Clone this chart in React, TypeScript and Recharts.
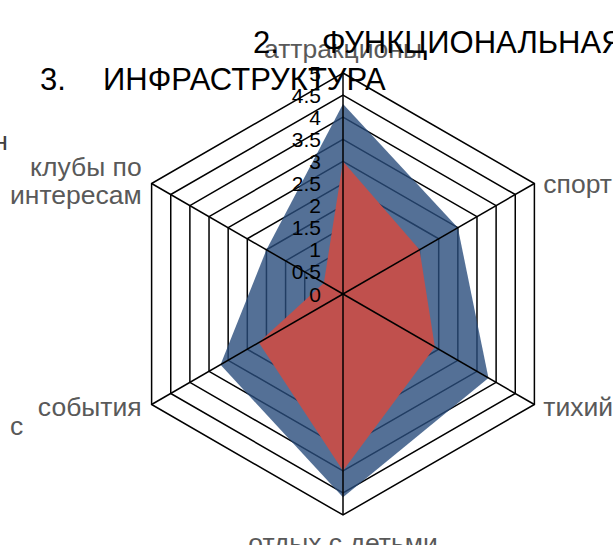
import React from 'react';
import { RadarChart, Radar, PolarGrid, PolarAngleAxis, PolarRadiusAxis } from 'recharts';

const categories = ['аттракционы', 'спорт', 'тихий', 'отдых с детьми', 'события', 'клубы по интересам'];
const seriesBlue = [4.3, 3.0, 3.8, 4.6, 3.2, 2.0];
const seriesRed = [3.0, 2.0, 2.4, 4.0, 2.2, 0.5];
const radiusDomain = [0, 5];
const radiusTickCount = 11;
const labelLines: Record<string, string[]> = {
  'клубы по интересам': ['клубы по', 'интересам'],
};
const titleLine1 = ['2.', 'ФУНКЦИОНАЛЬНАЯ'];
const titleLine2 = ['3.', 'ИНФРАСТРУКТУРА'];

const data = categories.map((c, i) => ({ name: c, blue: seriesBlue[i], red: seriesRed[i] }));

const W = 613;
const H = 545;
const CX = 343;
const CY = 294;
const R = 221;
const FONT = '"Liberation Sans", Arial, sans-serif';

const AngleTick = (props: any) => {
  const { x, y, payload, textAnchor } = props;
  const lines = labelLines[payload.value] || [payload.value];
  let baseline: number;
  if (y < CY - 150) baseline = y - 7;
  else if (y > CY + 150) baseline = y + 29;
  else if (y < CY) baseline = y + 13.5 - (lines.length - 1) * 17;
  else baseline = y + 7;
  let tx = x;
  if (textAnchor === 'start') tx = x + 2;
  else if (textAnchor === 'end') tx = x - 3;
  return (
    <text x={tx} y={baseline} textAnchor={textAnchor} fontSize={26.5} fill="#595959" fontFamily={FONT}>
      {lines.map((l, i) => (
        <tspan key={i} x={tx} dy={i === 0 ? 0 : 28}>{l}</tspan>
      ))}
    </text>
  );
};

const RadiusTick = (props: any) => {
  const { x, y, payload } = props;
  return (
    <text x={x - 22} y={y} dy="0.36em" textAnchor="end" fontSize={21} fill="#000" fontFamily={FONT}>
      {payload.value}
    </text>
  );
};

export default function App() {
  return (
    <div style={{ position: 'absolute', left: 0, top: 0, width: W, height: H, overflow: 'hidden', background: '#fff' }}>
      <RadarChart width={W} height={H} data={data} cx={CX} cy={CY} outerRadius={R} margin={{ top: 0, right: 0, bottom: 0, left: 0 }}>
        <PolarGrid gridType="polygon" radialLines={false} stroke="#000" strokeWidth={1.5} />
        <PolarAngleAxis dataKey="name" tick={<AngleTick />} tickLine={false} axisLine={false} />
        <PolarRadiusAxis angle={90} domain={radiusDomain} tickCount={radiusTickCount} allowDecimals={true} orientation="left" axisLine={false} tickLine={false} tick={<RadiusTick />} />
        <Radar dataKey="blue" fill="#294c7c" fillOpacity={0.8} stroke="none" isAnimationActive={false} />
        <Radar dataKey="red" fill="#c0504d" fillOpacity={1} stroke="none" isAnimationActive={false} />
        <PolarGrid gridType="polygon" polarRadius={[]} radialLines stroke="#000" strokeWidth={1.5} zIndex={600} />
      </RadarChart>
      <svg width={W} height={H} style={{ position: 'absolute', left: 0, top: 0, pointerEvents: 'none' }}>
        <text x={253} y={53} fontSize={31} fill="#000" fontFamily={FONT}>{titleLine1[0]}</text>
        <text x={322} y={53} fontSize={31} fill="#000" fontFamily={FONT}>{titleLine1[1]}</text>
        <text x={40} y={90} fontSize={31} fill="#000" fontFamily={FONT}>{titleLine2[0]}</text>
        <text x={103} y={90} fontSize={31} fill="#000" fontFamily={FONT}>{titleLine2[1]}</text>
        <text x={8} y={150} textAnchor="end" fontSize={26.5} fill="#404040" fontFamily={FONT}>н</text>
        <text x={10} y={435} fontSize={26.5} fill="#595959" fontFamily={FONT}>с</text>
      </svg>
    </div>
  );
}
